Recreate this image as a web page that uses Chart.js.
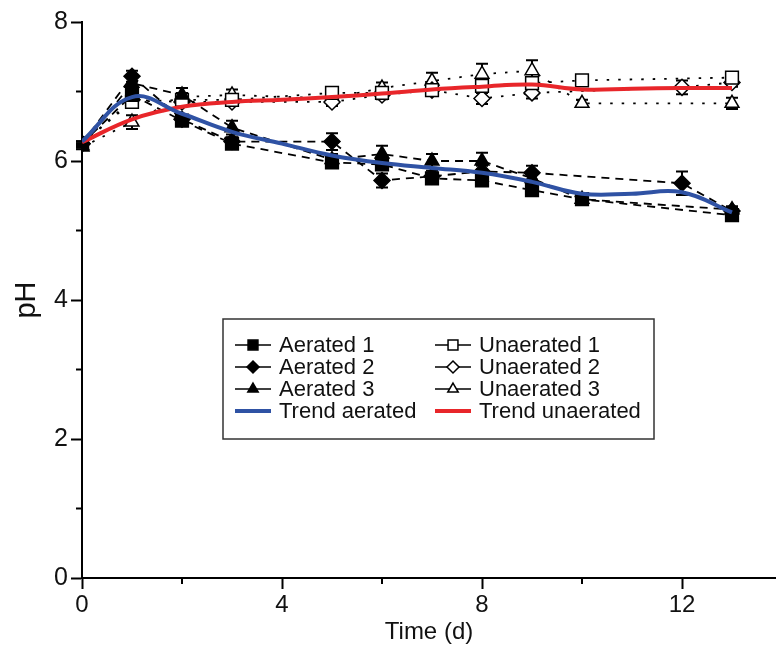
<!DOCTYPE html>
<html>
<head>
<meta charset="utf-8">
<script src="https://cdn.jsdelivr.net/npm/chart.js@4/dist/chart.umd.min.js"></script>
<style>
  body { margin: 0; background: #fff; }
  canvas { display: block; }
</style>
</head>
<body>
<canvas id="ph-chart" width="776" height="661"></canvas>
<script>
// sampling days of the replicates
const days = [0, 1, 2, 3, 5, 6, 7, 8, 9, 10, 12, 13];

// pH readings (null = not sampled)
const aerated1 = [6.25, 6.95, 6.58, 6.25, 5.98, 5.95, 5.75, 5.72, 5.58, 5.45, null, 5.22];
const aerated2 = [6.25, 7.22, 6.6, 6.28, 6.28, 5.72, 5.78, 5.85, 5.83, null, 5.68, 5.28];
const aerated3 = [6.22, 7.12, 6.95, 6.48, 6.02, 6.1, 6.0, 6.0, 5.75, 5.45, null, 5.3];
const unaerated1 = [6.25, 6.85, 6.88, 6.88, 6.98, 6.98, 7.02, 7.08, 7.12, 7.16, null, 7.2];
const unaerated2 = [6.25, 6.88, 6.85, 6.85, 6.85, 6.95, 7.02, 6.9, 6.98, null, 7.06, 7.13];
const unaerated3 = [6.2, 6.56, 6.92, 6.95, 6.9, 7.05, 7.15, 7.25, 7.3, 6.83, null, 6.83];

// standard deviations
const aerated1Err = [0.03, 0.08, 0.05, 0.06, 0.05, 0.06, 0.05, 0.05, 0.05, 0.06, null, 0.06];
const aerated2Err = [0.03, 0.08, 0.06, 0.06, 0.12, 0.1, 0.08, 0.08, 0.1, null, 0.17, 0.05];
const aerated3Err = [0.03, 0.12, 0.1, 0.1, 0.08, 0.12, 0.1, 0.12, 0.1, 0.06, null, 0.05];
const unaerated1Err = [0.03, 0.06, 0.05, 0.05, 0.06, 0.06, 0.06, 0.06, 0.08, 0.05, null, 0.06];
const unaerated2Err = [0.03, 0.06, 0.05, 0.05, 0.06, 0.06, 0.06, 0.08, 0.08, null, 0.1, 0.06];
const unaerated3Err = [0.03, 0.1, 0.06, 0.08, 0.06, 0.08, 0.12, 0.15, 0.15, 0.05, null, 0.08];

// smoothed trends
const trendDays = [0, 1, 2, 3, 4, 5, 6, 7, 8, 9, 10, 11, 12, 13];
const trendAerated = [6.28, 6.92, 6.68, 6.42, 6.25, 6.08, 5.97, 5.9, 5.83, 5.7, 5.53, 5.53, 5.55, 5.26];
const trendUnaerated = [6.27, 6.6, 6.78, 6.85, 6.88, 6.92, 6.97, 7.03, 7.07, 7.1, 7.03, 7.04, 7.05, 7.05];

// axis ticks
const xMajorTicks = [0, 4, 8, 12];
const yMajorTicks = [0, 2, 4, 6, 8];

const FONT = "'Liberation Sans', Arial, sans-serif";
const BLUE = "#2f52a4";
const RED = "#e8262a";

function toPoints(xs, ys, errs) {
  return xs
    .map((x, i) => ({ x, y: ys[i], err: errs ? errs[i] : null }))
    .filter(p => p.y !== null);
}

function replicate(label, ys, errs, style, filled, dash) {
  return {
    label,
    data: toPoints(days, ys, errs),
    borderColor: "#000",
    borderWidth: 1.8,
    borderDash: dash,
    tension: 0,
    pointStyle: style,
    pointRadius: style === "rect" ? 9 : 8,
    pointBackgroundColor: filled ? "#000" : "#fff",
    pointBorderColor: "#000",
    pointBorderWidth: 1.5,
    legendFilled: filled,
  };
}

function trend(label, ys, color) {
  return {
    label,
    data: toPoints(trendDays, ys),
    borderColor: color,
    borderWidth: 4,
    tension: 0.4,
    pointRadius: 0,
    isTrend: true,
  };
}

const datasets = [
  trend("Trend aerated", trendAerated, BLUE),
  trend("Trend unaerated", trendUnaerated, RED),
  replicate("Aerated 1", aerated1, aerated1Err, "rect", true, [8, 6]),
  replicate("Aerated 2", aerated2, aerated2Err, "rectRot", true, [8, 6]),
  replicate("Aerated 3", aerated3, aerated3Err, "triangle", true, [8, 6]),
  replicate("Unaerated 1", unaerated1, unaerated1Err, "rect", false, [2.5, 9]),
  replicate("Unaerated 2", unaerated2, unaerated2Err, "rectRot", false, [2.5, 9]),
  replicate("Unaerated 3", unaerated3, unaerated3Err, "triangle", false, [2.5, 9]),
];

// Helper: marker shapes for the legend
function drawMarker(ctx, style, x, y, r, fill) {
  ctx.beginPath();
  if (style === "rect") {
    const s = r * Math.SQRT1_2;
    ctx.rect(x - s, y - s, 2 * s, 2 * s);
  } else if (style === "rectRot") {
    ctx.moveTo(x, y - r);
    ctx.lineTo(x + r, y);
    ctx.lineTo(x, y + r);
    ctx.lineTo(x - r, y);
    ctx.closePath();
  } else {
    ctx.moveTo(x, y - r);
    ctx.lineTo(x + r * 0.866, y + r / 2);
    ctx.lineTo(x - r * 0.866, y + r / 2);
    ctx.closePath();
  }
  ctx.fillStyle = fill;
  ctx.fill();
  ctx.stroke();
}

// Error bars under the markers
const errorBars = {
  id: "errorBars",
  beforeDatasetsDraw(chart) {
    const { ctx, scales: { y } } = chart;
    ctx.save();
    ctx.strokeStyle = "#000";
    ctx.lineWidth = 2;
    chart.data.datasets.forEach((ds, di) => {
      if (ds.isTrend) return;
      const meta = chart.getDatasetMeta(di);
      meta.data.forEach((pt, i) => {
        const p = ds.data[i];
        if (!p.err) return;
        const top = y.getPixelForValue(p.y + p.err);
        const bot = y.getPixelForValue(p.y - p.err);
        ctx.beginPath();
        ctx.moveTo(pt.x, top);
        ctx.lineTo(pt.x, bot);
        ctx.moveTo(pt.x - 6, top);
        ctx.lineTo(pt.x + 6, top);
        ctx.moveTo(pt.x - 6, bot);
        ctx.lineTo(pt.x + 6, bot);
        ctx.stroke();
      });
    });
    ctx.restore();
  },
};

// Short minor ticks
const minorTicks = {
  id: "minorTicks",
  afterDraw(chart) {
    const { ctx, scales: { x, y }, chartArea } = chart;
    ctx.save();
    ctx.strokeStyle = "#000";
    ctx.lineWidth = 2;
    x.ticks.forEach(t => {
      if (xMajorTicks.includes(t.value)) return;
      const px = x.getPixelForValue(t.value);
      ctx.beginPath();
      ctx.moveTo(px, chartArea.bottom);
      ctx.lineTo(px, chartArea.bottom + 6);
      ctx.stroke();
    });
    y.ticks.forEach(t => {
      if (yMajorTicks.includes(t.value)) return;
      const py = y.getPixelForValue(t.value);
      ctx.beginPath();
      ctx.moveTo(chartArea.left, py);
      ctx.lineTo(chartArea.left - 6, py);
      ctx.stroke();
    });
    ctx.restore();
  },
};

// Boxed two-column legend inside the plot
const legendOrder = [
  ["Aerated 1", "Aerated 2", "Aerated 3", "Trend aerated"],
  ["Unaerated 1", "Unaerated 2", "Unaerated 3", "Trend unaerated"],
];
const boxLegend = {
  id: "boxLegend",
  afterDraw(chart) {
    const ctx = chart.ctx;
    const box = { left: 223, top: 319, right: 654, bottom: 439 };
    const colX = [235, 435];
    const rowY = [345, 367, 389, 411];
    ctx.save();
    ctx.fillStyle = "#fff";
    ctx.fillRect(box.left, box.top, box.right - box.left, box.bottom - box.top);
    ctx.strokeStyle = "#333";
    ctx.lineWidth = 1.5;
    ctx.strokeRect(box.left, box.top, box.right - box.left, box.bottom - box.top);
    ctx.font = `22px ${FONT}`;
    ctx.textBaseline = "middle";
    legendOrder.forEach((col, c) => {
      col.forEach((label, r) => {
        const ds = chart.data.datasets.find(d => d.label === label);
        const x0 = colX[c];
        const yy = rowY[r];
        ctx.setLineDash([]);
        if (ds.isTrend) {
          ctx.strokeStyle = ds.borderColor;
          ctx.lineWidth = 4;
          ctx.beginPath();
          ctx.moveTo(x0, yy);
          ctx.lineTo(x0 + 36, yy);
          ctx.stroke();
        } else {
          ctx.strokeStyle = "#000";
          ctx.lineWidth = 1.5;
          ctx.beginPath();
          ctx.moveTo(x0, yy);
          ctx.lineTo(x0 + 36, yy);
          ctx.stroke();
          drawMarker(ctx, ds.pointStyle, x0 + 18, yy, ds.pointStyle === "rect" ? 7 : 6, ds.legendFilled ? "#000" : "#fff");
        }
        ctx.fillStyle = "#111";
        ctx.fillText(label, x0 + 44, yy + 1);
      });
    });
    ctx.restore();
  },
};

new Chart(document.getElementById("ph-chart").getContext("2d"), {
  type: "line",
  data: { datasets },
  options: {
    responsive: false,
    animation: false,
    devicePixelRatio: 1,
    layout: { autoPadding: false, padding: { top: 22, right: 0, left: 0, bottom: 0 } },
    plugins: {
      legend: { display: false },
      tooltip: { enabled: false },
    },
    scales: {
      x: {
        type: "linear",
        min: 0,
        max: 13.88,
        afterBuildTicks: s => { s.ticks = s.ticks.filter(t => t.value % 2 === 0); },
        afterFit: s => { s.height = 83; },
        ticks: {
          stepSize: 2,
          includeBounds: false,
          color: "#111",
          font: { family: FONT, size: 24 },
          padding: 2,
          maxRotation: 0,
          autoSkip: false,
          callback: v => (xMajorTicks.includes(v) ? String(v) : ""),
        },
        grid: {
          drawOnChartArea: false,
          tickLength: 11,
          tickWidth: 2,
          tickColor: c => (c.tick && xMajorTicks.includes(c.tick.value) ? "#000" : "rgba(0,0,0,0)"),
        },
        border: { display: true, color: "#000", width: 2 },
        title: {
          display: true,
          text: "Time (d)",
          color: "#111",
          font: { family: FONT, size: 24 },
          padding: { top: 0, bottom: 14 },
        },
      },
      y: {
        min: 0,
        max: 8,
        afterFit: s => { s.width = 82; },
        ticks: {
          stepSize: 1,
          color: "#111",
          font: { family: FONT, size: 25 },
          padding: 3,
          autoSkip: false,
          callback: v => (yMajorTicks.includes(v) ? String(v) : ""),
        },
        grid: {
          drawOnChartArea: false,
          tickLength: 11,
          tickWidth: 2,
          tickColor: c => (c.tick && yMajorTicks.includes(c.tick.value) ? "#000" : "rgba(0,0,0,0)"),
        },
        border: { display: true, color: "#000", width: 2 },
        title: {
          display: true,
          text: "pH",
          color: "#111",
          font: { family: FONT, size: 29 },
          padding: { top: 10, bottom: 0 },
        },
      },
    },
  },
  plugins: [errorBars, minorTicks, boxLegend],
});
</script>
</body>
</html>
